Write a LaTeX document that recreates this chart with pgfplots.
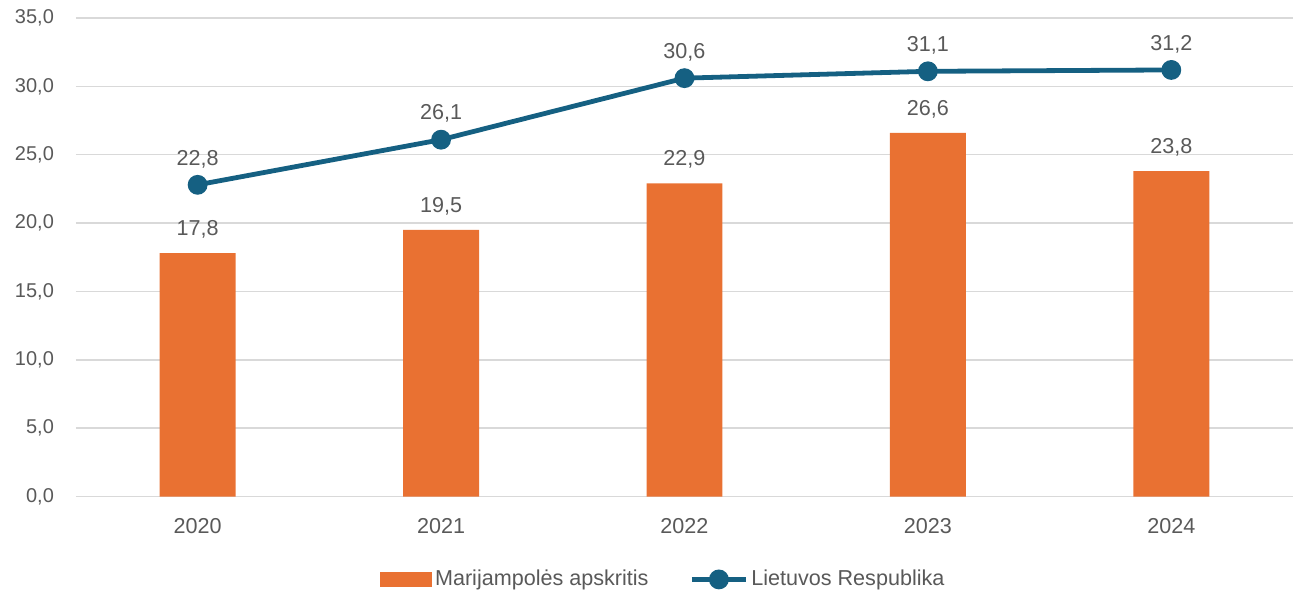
\documentclass[border=0pt]{standalone}
\usepackage{fontspec}
\setmainfont{Liberation Sans}
\usepackage{pgfplots}
\pgfplotsset{compat=1.18}
\definecolor{barorange}{HTML}{E97132}
\definecolor{lineblue}{HTML}{156082}
\definecolor{gridgrey}{HTML}{D9D9D9}
\definecolor{txtgrey}{HTML}{595959}
\begin{document}
\begin{tikzpicture}
\begin{axis}[
  width=609pt, height=239.5pt,
  scale only axis,
  xmin=-0.5, xmax=4.5,
  ymin=0, ymax=35,
  ytick={0,5,...,35},
  xtick={0,1,2,3,4},
  xticklabels={2020,2021,2022,2023,2024},
  axis line style={draw=none},
  major tick style={draw=none},
  ymajorgrids,
  grid style={gridgrey, line width=0.75pt},
  font=\fontsize{10}{12}\selectfont,
  every tick label/.append style={txtgrey},
  /pgf/number format/.cd, fixed, fixed zerofill, precision=1, use comma, assume math mode=true,
  /pgfplots/.cd,
  yticklabel style={xshift=-7.5pt},
  xticklabel style={yshift=-7.5pt, font=\fontsize{10.8}{12}\selectfont},
  legend style={at={(0.483,-0.173)}, anchor=center, draw=none, legend columns=2,
    font=\fontsize{10.8}{12}\selectfont, text=txtgrey,
    nodes={inner sep=1.5pt},
    /tikz/every even column/.append style={column sep=19pt}},
  legend cell align=left,
]
\coordinate (ll) at (rel axis cs:0,0);
\coordinate (ur) at (rel axis cs:1,1);
\addplot[ybar, bar width=38pt, fill=barorange, draw=none,
  legend image code/.code={\fill[barorange] (0pt,-3.75pt) rectangle (26pt,3.75pt);},
  nodes near coords, every node near coord/.append style={txtgrey, yshift=4pt, font=\fontsize{10.8}{12}\selectfont}]
  coordinates {(0,17.8) (1,19.5) (2,22.9) (3,26.6) (4,23.8)};
\addlegendentry{Marijampolės apskritis}
\addplot[lineblue, line width=2.4pt, mark=*, mark size=3.75pt, mark options={fill=lineblue},
  legend image code/.code={\draw[lineblue, line width=2.4pt] (0pt,0pt) -- (27pt,0pt);
    \fill[lineblue] (13.5pt,0pt) circle (3.75pt);},
  nodes near coords, every node near coord/.append style={txtgrey, yshift=4pt, font=\fontsize{10.8}{12}\selectfont}]
  coordinates {(0,22.8) (1,26.1) (2,30.6) (3,31.1) (4,31.2)};
\addlegendentry{Lietuvos Respublika}
\end{axis}
\pgfresetboundingbox
\path (ll) ++(-38pt,-48pt) coordinate (bl);
\path (ur) ++(5pt,9pt) coordinate (tr);
\useasboundingbox (bl) rectangle (tr);
\end{tikzpicture}
\end{document}
